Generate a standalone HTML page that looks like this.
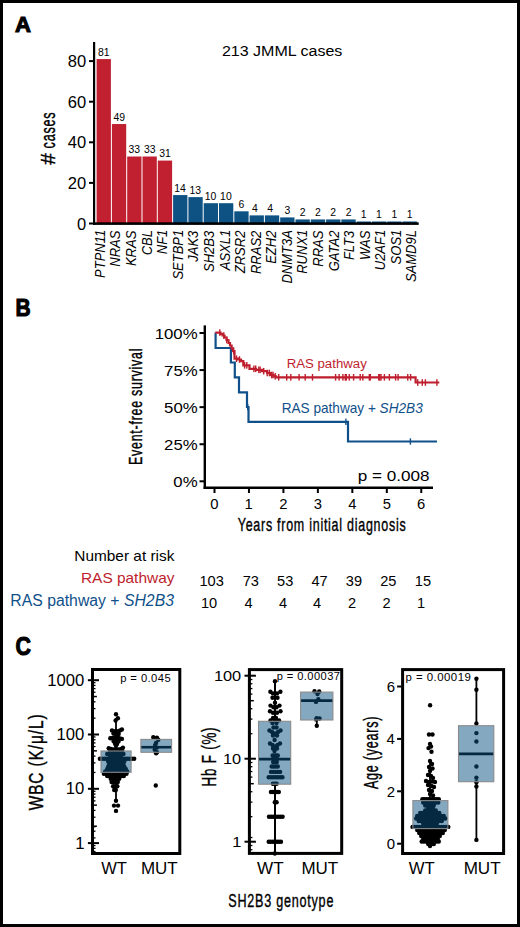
<!DOCTYPE html>
<html><head><meta charset="utf-8"><style>
html,body{margin:0;padding:0;background:#fff;}
body{width:520px;height:927px;overflow:hidden;}
svg{display:block;}
text{font-family:"Liberation Sans",sans-serif;}
</style></head><body>
<svg width="520" height="927" viewBox="0 0 520 927">
<rect width="520" height="927" fill="#fff"/>
<rect x="1.5" y="1.5" width="517" height="924" fill="none" stroke="#000" stroke-width="3"/>
<text transform="translate(14.89,32.35) scale(0.9865,1)" font-size="22.39" font-weight="bold" fill="#000" stroke="#000" stroke-width="1.1">A</text>
<rect x="96.6" y="59.07" width="14.3" height="164.43" fill="#C0202F"/>
<text transform="translate(97.98,55.87) scale(1.0000,1)" font-size="10.40" fill="#000">81</text>
<text transform="translate(104.9,277.93) rotate(-90) scale(0.9300,1)" font-size="14.00" font-style="italic" fill="#000">PTPN11</text>
<rect x="111.9" y="124.03" width="14.3" height="99.47" fill="#C0202F"/>
<text transform="translate(113.38,120.83) scale(1.0000,1)" font-size="10.40" fill="#000">49</text>
<text transform="translate(120.48,266.74) rotate(-90) scale(0.9300,1)" font-size="14.00" font-style="italic" fill="#000">NRAS</text>
<rect x="127.2" y="156.51" width="14.3" height="66.99" fill="#C0202F"/>
<text transform="translate(128.58,153.31) scale(1.0000,1)" font-size="10.40" fill="#000">33</text>
<text transform="translate(136.05,266.08) rotate(-90) scale(0.9300,1)" font-size="14.00" font-style="italic" fill="#000">KRAS</text>
<rect x="142.5" y="156.51" width="14.3" height="66.99" fill="#C0202F"/>
<text transform="translate(143.88,153.31) scale(1.0000,1)" font-size="10.40" fill="#000">33</text>
<text transform="translate(151.62,255.28) rotate(-90) scale(0.9300,1)" font-size="14.00" font-style="italic" fill="#000">CBL</text>
<rect x="157.8" y="160.57" width="14.3" height="62.93" fill="#C0202F"/>
<text transform="translate(159.18,157.37) scale(1.0000,1)" font-size="10.40" fill="#000">31</text>
<text transform="translate(167.2,254.24) rotate(-90) scale(0.9300,1)" font-size="14.00" font-style="italic" fill="#000">NF1</text>
<rect x="173.1" y="195.08" width="14.3" height="28.42" fill="#0D5283"/>
<text transform="translate(174.17,191.88) scale(1.0000,1)" font-size="10.40" fill="#000">14</text>
<text transform="translate(182.78,279.62) rotate(-90) scale(0.9300,1)" font-size="14.00" font-style="italic" fill="#000">SETBP1</text>
<rect x="188.4" y="197.11" width="14.3" height="26.39" fill="#0D5283"/>
<text transform="translate(189.57,193.91) scale(1.0000,1)" font-size="10.40" fill="#000">13</text>
<text transform="translate(198.35,261.79) rotate(-90) scale(0.9300,1)" font-size="14.00" font-style="italic" fill="#000">JAK3</text>
<rect x="203.7" y="203.2" width="14.3" height="20.3" fill="#0D5283"/>
<text transform="translate(204.82,200) scale(1.0000,1)" font-size="10.40" fill="#000">10</text>
<text transform="translate(213.93,271.94) rotate(-90) scale(0.9300,1)" font-size="14.00" font-style="italic" fill="#000">SH2B3</text>
<rect x="219" y="203.2" width="14.3" height="20.3" fill="#0D5283"/>
<text transform="translate(220.12,200) scale(1.0000,1)" font-size="10.40" fill="#000">10</text>
<text transform="translate(229.5,270.25) rotate(-90) scale(0.9300,1)" font-size="14.00" font-style="italic" fill="#000">ASXL1</text>
<rect x="234.3" y="211.32" width="14.3" height="12.18" fill="#0D5283"/>
<text transform="translate(238.54,208.12) scale(1.0000,1)" font-size="10.40" fill="#000">6</text>
<text transform="translate(245.07,273.25) rotate(-90) scale(0.9300,1)" font-size="14.00" font-style="italic" fill="#000">ZRSR2</text>
<rect x="249.6" y="215.38" width="14.3" height="8.12" fill="#0D5283"/>
<text transform="translate(251.99,212.18) scale(1.0000,1)" font-size="10.40" fill="#000">4</text>
<text transform="translate(260.65,274.03) rotate(-90) scale(0.9300,1)" font-size="14.00" font-style="italic" fill="#000">RRAS2</text>
<rect x="264.9" y="215.38" width="14.3" height="8.12" fill="#0D5283"/>
<text transform="translate(267.29,212.18) scale(1.0000,1)" font-size="10.40" fill="#000">4</text>
<text transform="translate(276.23,263.87) rotate(-90) scale(0.9300,1)" font-size="14.00" font-style="italic" fill="#000">EZH2</text>
<rect x="280.2" y="217.41" width="14.3" height="6.09" fill="#0D5283"/>
<text transform="translate(284.49,214.21) scale(1.0000,1)" font-size="10.40" fill="#000">3</text>
<text transform="translate(291.8,283.53) rotate(-90) scale(0.9300,1)" font-size="14.00" font-style="italic" fill="#000">DNMT3A</text>
<rect x="295.5" y="219.44" width="14.3" height="4.06" fill="#0D5283"/>
<text transform="translate(299.74,216.24) scale(1.0000,1)" font-size="10.40" fill="#000">2</text>
<text transform="translate(307.38,273.77) rotate(-90) scale(0.9300,1)" font-size="14.00" font-style="italic" fill="#000">RUNX1</text>
<rect x="310.8" y="219.44" width="14.3" height="4.06" fill="#0D5283"/>
<text transform="translate(315.04,216.24) scale(1.0000,1)" font-size="10.40" fill="#000">2</text>
<text transform="translate(322.95,266.74) rotate(-90) scale(0.9300,1)" font-size="14.00" font-style="italic" fill="#000">RRAS</text>
<rect x="326.1" y="219.44" width="14.3" height="4.06" fill="#0D5283"/>
<text transform="translate(330.34,216.24) scale(1.0000,1)" font-size="10.40" fill="#000">2</text>
<text transform="translate(338.52,271.29) rotate(-90) scale(0.9300,1)" font-size="14.00" font-style="italic" fill="#000">GATA2</text>
<rect x="341.4" y="219.44" width="14.3" height="4.06" fill="#0D5283"/>
<text transform="translate(345.64,216.24) scale(1.0000,1)" font-size="10.40" fill="#000">2</text>
<text transform="translate(354.1,260.1) rotate(-90) scale(0.9300,1)" font-size="14.00" font-style="italic" fill="#000">FLT3</text>
<rect x="356.7" y="221.47" width="14.3" height="2.03" fill="#0D5283"/>
<text transform="translate(360.78,218.27) scale(1.0000,1)" font-size="10.40" fill="#000">1</text>
<text transform="translate(369.67,259.96) rotate(-90) scale(0.9300,1)" font-size="14.00" font-style="italic" fill="#000">WAS</text>
<rect x="372" y="221.47" width="14.3" height="2.03" fill="#0D5283"/>
<text transform="translate(376.08,218.27) scale(1.0000,1)" font-size="10.40" fill="#000">1</text>
<text transform="translate(385.25,270.25) rotate(-90) scale(0.9300,1)" font-size="14.00" font-style="italic" fill="#000">U2AF1</text>
<rect x="387.3" y="221.47" width="14.3" height="2.03" fill="#0D5283"/>
<text transform="translate(391.38,218.27) scale(1.0000,1)" font-size="10.40" fill="#000">1</text>
<text transform="translate(400.83,264.39) rotate(-90) scale(0.9300,1)" font-size="14.00" font-style="italic" fill="#000">SOS1</text>
<rect x="402.6" y="221.47" width="14.3" height="2.03" fill="#0D5283"/>
<text transform="translate(406.68,218.27) scale(1.0000,1)" font-size="10.40" fill="#000">1</text>
<text transform="translate(416.4,282.1) rotate(-90) scale(0.9300,1)" font-size="14.00" font-style="italic" fill="#000">SAMD9L</text>
<rect x="93" y="42" width="2.2" height="183" fill="#000"/>
<rect x="93" y="222.3" width="325.7" height="2.6" fill="#000"/>
<rect x="89" y="222.5" width="4.5" height="2" fill="#000"/>
<text transform="translate(77.1,229.6) scale(1.0400,1)" font-size="15.90" fill="#000">0</text>
<rect x="89" y="181.9" width="4.5" height="2" fill="#000"/>
<text transform="translate(67.84,189) scale(1.0400,1)" font-size="15.90" fill="#000">20</text>
<rect x="89" y="141.3" width="4.5" height="2" fill="#000"/>
<text transform="translate(67.84,148.4) scale(1.0400,1)" font-size="15.90" fill="#000">40</text>
<rect x="89" y="100.7" width="4.5" height="2" fill="#000"/>
<text transform="translate(67.84,107.8) scale(1.0400,1)" font-size="15.90" fill="#000">60</text>
<rect x="89" y="60.1" width="4.5" height="2" fill="#000"/>
<text transform="translate(67.84,67.2) scale(1.0400,1)" font-size="15.90" fill="#000">80</text>
<text transform="translate(54.5,164.7) rotate(-90) scale(1.0001,1)" font-size="20.72" stroke-width="0.4" stroke="#000" fill="#000">#</text>
<text transform="translate(54.5,148.41) rotate(-90) scale(0.6437,1)" font-size="19.63" stroke-width="0.4" stroke="#000" letter-spacing="1.18" fill="#000">cases</text>
<text transform="translate(221.9,56) scale(1.0789,1)" font-size="14.86" fill="#000">213 JMML cases</text>
<text transform="translate(15.58,315.65) scale(0.8567,1)" font-size="24.49" font-weight="bold" fill="#000" stroke="#000" stroke-width="1.1">B</text>
<rect x="203.6" y="325.4" width="2.4" height="163.6" fill="#000"/>
<rect x="203.6" y="486.5" width="229.4" height="2.5" fill="#000"/>
<rect x="199.5" y="332" width="4.5" height="2" fill="#000"/>
<text transform="translate(154.7,338.5) scale(1.0900,1)" font-size="15.40" fill="#000">100%</text>
<rect x="199.5" y="369.07" width="4.5" height="2" fill="#000"/>
<text transform="translate(164.1,375.57) scale(1.0900,1)" font-size="15.40" fill="#000">75%</text>
<rect x="199.5" y="406.15" width="4.5" height="2" fill="#000"/>
<text transform="translate(164.1,412.65) scale(1.0900,1)" font-size="15.40" fill="#000">50%</text>
<rect x="199.5" y="443.23" width="4.5" height="2" fill="#000"/>
<text transform="translate(164.1,449.73) scale(1.0900,1)" font-size="15.40" fill="#000">25%</text>
<rect x="199.5" y="480.3" width="4.5" height="2" fill="#000"/>
<text transform="translate(173.33,486.8) scale(1.0900,1)" font-size="15.40" fill="#000">0%</text>
<rect x="213.5" y="489" width="2" height="4" fill="#000"/>
<text transform="translate(210.36,508.8) scale(1.0000,1)" font-size="14.80" fill="#000">0</text>
<rect x="247.96" y="489" width="2" height="4" fill="#000"/>
<text transform="translate(244.59,508.8) scale(1.0000,1)" font-size="14.80" fill="#000">1</text>
<rect x="282.42" y="489" width="2" height="4" fill="#000"/>
<text transform="translate(279.28,508.8) scale(1.0000,1)" font-size="14.80" fill="#000">2</text>
<rect x="316.88" y="489" width="2" height="4" fill="#000"/>
<text transform="translate(313.81,508.8) scale(1.0000,1)" font-size="14.80" fill="#000">3</text>
<rect x="351.34" y="489" width="2" height="4" fill="#000"/>
<text transform="translate(348.27,508.8) scale(1.0000,1)" font-size="14.80" fill="#000">4</text>
<rect x="385.8" y="489" width="2" height="4" fill="#000"/>
<text transform="translate(382.66,508.8) scale(1.0000,1)" font-size="14.80" fill="#000">5</text>
<rect x="420.26" y="489" width="2" height="4" fill="#000"/>
<text transform="translate(417.12,508.8) scale(1.0000,1)" font-size="14.80" fill="#000">6</text>
<text transform="translate(142.4,465) rotate(-90) scale(0.6491,1)" font-size="19.17" stroke-width="0.4" stroke="#000" letter-spacing="1.15" fill="#000">Event-free survival</text>
<text transform="translate(237.75,531.3) scale(0.6653,1)" font-size="18.75" stroke-width="0.4" stroke="#000" letter-spacing="1.12" fill="#000">Years from initial diagnosis</text>
<text transform="translate(357.72,481.25) scale(1.1145,1)" font-size="15.36" fill="#000">p = 0.008</text>
<path d="M215.6,332.5 L215.6,348 L230.9,348 L230.9,362.5 L234.8,362.5 L234.8,377.3 L239,377.3 L239,392.3 L247,392.3 L247,407 L248.5,407 L248.5,421.8 L348,421.8 L348,441.5 L437,441.5" fill="none" stroke="#10508A" stroke-width="2.2"/>
<rect x="247" y="403.8" width="1.4" height="6.4" fill="#10508A"/>
<rect x="345.2" y="418.6" width="1.4" height="6.4" fill="#10508A"/>
<rect x="409.7" y="438.3" width="1.4" height="6.4" fill="#10508A"/>
<path d="M215.3,332.6 L220.5,332.6 L220.5,333.8 L222.5,333.8 L222.5,335.5 L224.5,335.5 L224.5,337.5 L226.5,337.5 L226.5,340 L228.5,340 L228.5,343 L230,343 L230,345.5 L231.6,345.5 L231.6,348.3 L233,348.3 L233,351 L234.5,351 L234.5,358.7 L238,358.7 L238,359.5 L241,359.5 L241,361.2 L243.3,361.2 L243.3,365.3 L249.5,365.3 L249.5,368.8 L256,368.8 L256,369.8 L261.9,369.8 L261.9,371.2 L267.2,371.2 L267.2,373 L270,373 L270,375 L273.5,375 L273.5,376.3 L276,376.3 L276,377.3 L415.6,377.3 L415.6,382.5 L439.3,382.5" fill="none" stroke="#BE1E2D" stroke-width="2.2"/>
<rect x="219.1" y="329.3" width="1.4" height="6.6" fill="#BE1E2D"/>
<rect x="223.1" y="332.2" width="1.4" height="6.6" fill="#BE1E2D"/>
<rect x="226" y="336.7" width="1.4" height="6.6" fill="#BE1E2D"/>
<rect x="232.9" y="347.7" width="1.4" height="6.6" fill="#BE1E2D"/>
<rect x="235.8" y="355.4" width="1.4" height="6.6" fill="#BE1E2D"/>
<rect x="238.8" y="356.2" width="1.4" height="6.6" fill="#BE1E2D"/>
<rect x="243.9" y="362" width="1.4" height="6.6" fill="#BE1E2D"/>
<rect x="246.1" y="362" width="1.4" height="6.6" fill="#BE1E2D"/>
<rect x="253.2" y="365.5" width="1.4" height="6.6" fill="#BE1E2D"/>
<rect x="255" y="365.5" width="1.4" height="6.6" fill="#BE1E2D"/>
<rect x="258.1" y="366.5" width="1.4" height="6.6" fill="#BE1E2D"/>
<rect x="259.4" y="366.5" width="1.4" height="6.6" fill="#BE1E2D"/>
<rect x="263" y="367.9" width="1.4" height="6.6" fill="#BE1E2D"/>
<rect x="266.5" y="369.7" width="1.4" height="6.6" fill="#BE1E2D"/>
<rect x="268.7" y="369.7" width="1.4" height="6.6" fill="#BE1E2D"/>
<rect x="270.9" y="371.7" width="1.4" height="6.6" fill="#BE1E2D"/>
<rect x="272.3" y="371.7" width="1.4" height="6.6" fill="#BE1E2D"/>
<rect x="274.5" y="373" width="1.4" height="6.6" fill="#BE1E2D"/>
<rect x="278" y="374" width="1.4" height="6.6" fill="#BE1E2D"/>
<rect x="286" y="374" width="1.4" height="6.6" fill="#BE1E2D"/>
<rect x="290.1" y="374" width="1.4" height="6.6" fill="#BE1E2D"/>
<rect x="298.4" y="374" width="1.4" height="6.6" fill="#BE1E2D"/>
<rect x="304.5" y="374" width="1.4" height="6.6" fill="#BE1E2D"/>
<rect x="311.8" y="374" width="1.4" height="6.6" fill="#BE1E2D"/>
<rect x="334.9" y="374" width="1.4" height="6.6" fill="#BE1E2D"/>
<rect x="338.4" y="374" width="1.4" height="6.6" fill="#BE1E2D"/>
<rect x="342.2" y="374" width="1.4" height="6.6" fill="#BE1E2D"/>
<rect x="344.6" y="374" width="1.4" height="6.6" fill="#BE1E2D"/>
<rect x="345.6" y="374" width="1.4" height="6.6" fill="#BE1E2D"/>
<rect x="348.5" y="374" width="1.4" height="6.6" fill="#BE1E2D"/>
<rect x="352.9" y="374" width="1.4" height="6.6" fill="#BE1E2D"/>
<rect x="359.5" y="374" width="1.4" height="6.6" fill="#BE1E2D"/>
<rect x="362.1" y="374" width="1.4" height="6.6" fill="#BE1E2D"/>
<rect x="368.6" y="374" width="1.4" height="6.6" fill="#BE1E2D"/>
<rect x="369.6" y="374" width="1.4" height="6.6" fill="#BE1E2D"/>
<rect x="378.05" y="374" width="1.4" height="6.6" fill="#BE1E2D"/>
<rect x="379.05" y="374" width="1.4" height="6.6" fill="#BE1E2D"/>
<rect x="380.3" y="374" width="1.4" height="6.6" fill="#BE1E2D"/>
<rect x="383.7" y="374" width="1.4" height="6.6" fill="#BE1E2D"/>
<rect x="388.7" y="374" width="1.4" height="6.6" fill="#BE1E2D"/>
<rect x="394.9" y="374" width="1.4" height="6.6" fill="#BE1E2D"/>
<rect x="397.4" y="374" width="1.4" height="6.6" fill="#BE1E2D"/>
<rect x="407.05" y="374" width="1.4" height="6.6" fill="#BE1E2D"/>
<rect x="409.9" y="374" width="1.4" height="6.6" fill="#BE1E2D"/>
<rect x="417" y="379.2" width="1.4" height="6.6" fill="#BE1E2D"/>
<rect x="421.6" y="379.2" width="1.4" height="6.6" fill="#BE1E2D"/>
<rect x="424.7" y="379.2" width="1.4" height="6.6" fill="#BE1E2D"/>
<rect x="436.2" y="379.2" width="1.4" height="6.6" fill="#BE1E2D"/>
<text transform="translate(286.64,367.7) scale(0.9933,1)" font-size="13.33" fill="#BE1E2D">RAS pathway</text>
<text transform="translate(281.71,412.6) scale(0.9720,1)" font-size="14.00" fill="#10508A">RAS pathway + <tspan font-style="italic">SH2B3</tspan></text>
<text transform="translate(74.27,561.25) scale(1.0328,1)" font-size="14.93" fill="#000">Number at risk</text>
<text transform="translate(80.97,583.1) scale(0.9922,1)" font-size="15.56" fill="#BE1E2D">RAS pathway</text>
<text transform="translate(10.34,605.9) scale(1.0120,1)" font-size="15.60" fill="#10508A">RAS pathway + <tspan font-style="italic">SH2B3</tspan></text>
<text transform="translate(199.49,586) scale(1.0000,1)" font-size="14.60" fill="#000">103</text>
<text transform="translate(242.72,586) scale(1.0000,1)" font-size="14.60" fill="#000">73</text>
<text transform="translate(277.1,586) scale(1.0000,1)" font-size="14.60" fill="#000">53</text>
<text transform="translate(311.44,586) scale(1.0000,1)" font-size="14.60" fill="#000">47</text>
<text transform="translate(345.8,586) scale(1.0000,1)" font-size="14.60" fill="#000">39</text>
<text transform="translate(380.25,586) scale(1.0000,1)" font-size="14.60" fill="#000">25</text>
<text transform="translate(414.83,586) scale(1.0000,1)" font-size="14.60" fill="#000">15</text>
<text transform="translate(200.93,608) scale(1.0000,1)" font-size="14.60" fill="#000">10</text>
<text transform="translate(244.49,608) scale(1.0000,1)" font-size="14.60" fill="#000">4</text>
<text transform="translate(278.88,608) scale(1.0000,1)" font-size="14.60" fill="#000">4</text>
<text transform="translate(312.99,608) scale(1.0000,1)" font-size="14.60" fill="#000">4</text>
<text transform="translate(348.11,608) scale(1.0000,1)" font-size="14.60" fill="#000">2</text>
<text transform="translate(382.41,608) scale(1.0000,1)" font-size="14.60" fill="#000">2</text>
<text transform="translate(416.89,608) scale(1.0000,1)" font-size="14.60" fill="#000">1</text>
<text transform="translate(15.49,654.5) scale(0.8433,1)" font-size="25.36" font-weight="bold" fill="#000" stroke="#000" stroke-width="1.1">C</text>
<line x1="116" y1="718" x2="116" y2="751" stroke="#000" stroke-width="1.8"/>
<line x1="116" y1="772.3" x2="116" y2="800" stroke="#000" stroke-width="1.8"/>
<circle cx="116" cy="714.2" r="2.2" fill="#000"/>
<circle cx="117.9" cy="718.3" r="2.2" fill="#000"/>
<circle cx="115.6" cy="720.5" r="2.2" fill="#000"/>
<circle cx="112" cy="730.5" r="2.2" fill="#000"/>
<circle cx="114" cy="731.5" r="2.2" fill="#000"/>
<circle cx="116" cy="731" r="2.2" fill="#000"/>
<circle cx="118" cy="731.5" r="2.2" fill="#000"/>
<circle cx="120" cy="730.5" r="2.2" fill="#000"/>
<circle cx="121.9" cy="729.5" r="2.2" fill="#000"/>
<circle cx="113.5" cy="733.5" r="2.2" fill="#000"/>
<circle cx="116" cy="734" r="2.2" fill="#000"/>
<circle cx="118.7" cy="734" r="2.2" fill="#000"/>
<circle cx="110.3" cy="738.2" r="2.2" fill="#000"/>
<circle cx="112.5" cy="738" r="2.2" fill="#000"/>
<circle cx="114.5" cy="737.5" r="2.2" fill="#000"/>
<circle cx="116" cy="737" r="2.2" fill="#000"/>
<circle cx="118" cy="737.5" r="2.2" fill="#000"/>
<circle cx="120" cy="738.5" r="2.2" fill="#000"/>
<circle cx="121.9" cy="738.9" r="2.2" fill="#000"/>
<circle cx="113.5" cy="741" r="2.2" fill="#000"/>
<circle cx="116" cy="740.5" r="2.2" fill="#000"/>
<circle cx="118.5" cy="741.5" r="2.2" fill="#000"/>
<circle cx="115" cy="743.5" r="2.2" fill="#000"/>
<circle cx="117" cy="744" r="2.2" fill="#000"/>
<circle cx="116" cy="745.5" r="2.2" fill="#000"/>
<circle cx="108.7" cy="748.2" r="2.2" fill="#000"/>
<circle cx="111" cy="749" r="2.2" fill="#000"/>
<circle cx="113.5" cy="749.5" r="2.2" fill="#000"/>
<circle cx="116" cy="748.8" r="2.2" fill="#000"/>
<circle cx="118.5" cy="749.5" r="2.2" fill="#000"/>
<circle cx="121" cy="749" r="2.2" fill="#000"/>
<circle cx="122.9" cy="747.8" r="2.2" fill="#000"/>
<circle cx="110" cy="750.5" r="2.2" fill="#000"/>
<circle cx="114" cy="751" r="2.2" fill="#000"/>
<circle cx="118" cy="751" r="2.2" fill="#000"/>
<circle cx="122" cy="750.5" r="2.2" fill="#000"/>
<circle cx="107.2" cy="754" r="2.2" fill="#000"/>
<circle cx="109.24" cy="754" r="2.2" fill="#000"/>
<circle cx="111.28" cy="754" r="2.2" fill="#000"/>
<circle cx="113.31" cy="754" r="2.2" fill="#000"/>
<circle cx="115.35" cy="754" r="2.2" fill="#000"/>
<circle cx="117.39" cy="754" r="2.2" fill="#000"/>
<circle cx="119.42" cy="754" r="2.2" fill="#000"/>
<circle cx="121.46" cy="754" r="2.2" fill="#000"/>
<circle cx="123.5" cy="754" r="2.2" fill="#000"/>
<circle cx="110.2" cy="756" r="2.2" fill="#000"/>
<circle cx="112.32" cy="756" r="2.2" fill="#000"/>
<circle cx="114.44" cy="756" r="2.2" fill="#000"/>
<circle cx="116.56" cy="756" r="2.2" fill="#000"/>
<circle cx="118.68" cy="756" r="2.2" fill="#000"/>
<circle cx="120.8" cy="756" r="2.2" fill="#000"/>
<circle cx="99.9" cy="758.8" r="2.2" fill="#000"/>
<circle cx="102.19" cy="758.8" r="2.2" fill="#000"/>
<circle cx="104.47" cy="758.8" r="2.2" fill="#000"/>
<circle cx="106.76" cy="758.8" r="2.2" fill="#000"/>
<circle cx="109.05" cy="758.8" r="2.2" fill="#000"/>
<circle cx="111.33" cy="758.8" r="2.2" fill="#000"/>
<circle cx="113.62" cy="758.8" r="2.2" fill="#000"/>
<circle cx="115.91" cy="758.8" r="2.2" fill="#000"/>
<circle cx="118.19" cy="758.8" r="2.2" fill="#000"/>
<circle cx="120.48" cy="758.8" r="2.2" fill="#000"/>
<circle cx="122.77" cy="758.8" r="2.2" fill="#000"/>
<circle cx="125.05" cy="758.8" r="2.2" fill="#000"/>
<circle cx="127.34" cy="758.8" r="2.2" fill="#000"/>
<circle cx="129.63" cy="758.8" r="2.2" fill="#000"/>
<circle cx="131.91" cy="758.8" r="2.2" fill="#000"/>
<circle cx="134.2" cy="758.8" r="2.2" fill="#000"/>
<circle cx="108.2" cy="761.5" r="2.2" fill="#000"/>
<circle cx="110.5" cy="761.5" r="2.2" fill="#000"/>
<circle cx="112.8" cy="761.5" r="2.2" fill="#000"/>
<circle cx="115.1" cy="761.5" r="2.2" fill="#000"/>
<circle cx="117.4" cy="761.5" r="2.2" fill="#000"/>
<circle cx="119.7" cy="761.5" r="2.2" fill="#000"/>
<circle cx="122" cy="761.5" r="2.2" fill="#000"/>
<circle cx="124.3" cy="761.5" r="2.2" fill="#000"/>
<circle cx="109.2" cy="764" r="2.2" fill="#000"/>
<circle cx="111.21" cy="764" r="2.2" fill="#000"/>
<circle cx="113.23" cy="764" r="2.2" fill="#000"/>
<circle cx="115.24" cy="764" r="2.2" fill="#000"/>
<circle cx="117.26" cy="764" r="2.2" fill="#000"/>
<circle cx="119.27" cy="764" r="2.2" fill="#000"/>
<circle cx="121.29" cy="764" r="2.2" fill="#000"/>
<circle cx="123.3" cy="764" r="2.2" fill="#000"/>
<circle cx="108.2" cy="766.5" r="2.2" fill="#000"/>
<circle cx="110.5" cy="766.5" r="2.2" fill="#000"/>
<circle cx="112.8" cy="766.5" r="2.2" fill="#000"/>
<circle cx="115.1" cy="766.5" r="2.2" fill="#000"/>
<circle cx="117.4" cy="766.5" r="2.2" fill="#000"/>
<circle cx="119.7" cy="766.5" r="2.2" fill="#000"/>
<circle cx="122" cy="766.5" r="2.2" fill="#000"/>
<circle cx="124.3" cy="766.5" r="2.2" fill="#000"/>
<circle cx="107.2" cy="769" r="2.2" fill="#000"/>
<circle cx="109.27" cy="769" r="2.2" fill="#000"/>
<circle cx="111.33" cy="769" r="2.2" fill="#000"/>
<circle cx="113.4" cy="769" r="2.2" fill="#000"/>
<circle cx="115.47" cy="769" r="2.2" fill="#000"/>
<circle cx="117.53" cy="769" r="2.2" fill="#000"/>
<circle cx="119.6" cy="769" r="2.2" fill="#000"/>
<circle cx="121.67" cy="769" r="2.2" fill="#000"/>
<circle cx="123.73" cy="769" r="2.2" fill="#000"/>
<circle cx="125.8" cy="769" r="2.2" fill="#000"/>
<circle cx="105.2" cy="771.5" r="2.2" fill="#000"/>
<circle cx="107.41" cy="771.5" r="2.2" fill="#000"/>
<circle cx="109.62" cy="771.5" r="2.2" fill="#000"/>
<circle cx="111.83" cy="771.5" r="2.2" fill="#000"/>
<circle cx="114.04" cy="771.5" r="2.2" fill="#000"/>
<circle cx="116.25" cy="771.5" r="2.2" fill="#000"/>
<circle cx="118.46" cy="771.5" r="2.2" fill="#000"/>
<circle cx="120.67" cy="771.5" r="2.2" fill="#000"/>
<circle cx="122.88" cy="771.5" r="2.2" fill="#000"/>
<circle cx="125.09" cy="771.5" r="2.2" fill="#000"/>
<circle cx="127.3" cy="771.5" r="2.2" fill="#000"/>
<circle cx="103.9" cy="773.8" r="2.2" fill="#000"/>
<circle cx="106.16" cy="773.8" r="2.2" fill="#000"/>
<circle cx="108.42" cy="773.8" r="2.2" fill="#000"/>
<circle cx="110.68" cy="773.8" r="2.2" fill="#000"/>
<circle cx="112.94" cy="773.8" r="2.2" fill="#000"/>
<circle cx="115.2" cy="773.8" r="2.2" fill="#000"/>
<circle cx="117.46" cy="773.8" r="2.2" fill="#000"/>
<circle cx="119.72" cy="773.8" r="2.2" fill="#000"/>
<circle cx="121.98" cy="773.8" r="2.2" fill="#000"/>
<circle cx="124.24" cy="773.8" r="2.2" fill="#000"/>
<circle cx="126.5" cy="773.8" r="2.2" fill="#000"/>
<circle cx="107.2" cy="776" r="2.2" fill="#000"/>
<circle cx="109.28" cy="776" r="2.2" fill="#000"/>
<circle cx="111.35" cy="776" r="2.2" fill="#000"/>
<circle cx="113.42" cy="776" r="2.2" fill="#000"/>
<circle cx="115.5" cy="776" r="2.2" fill="#000"/>
<circle cx="117.58" cy="776" r="2.2" fill="#000"/>
<circle cx="119.65" cy="776" r="2.2" fill="#000"/>
<circle cx="121.72" cy="776" r="2.2" fill="#000"/>
<circle cx="123.8" cy="776" r="2.2" fill="#000"/>
<circle cx="110.7" cy="778.7" r="2.2" fill="#000"/>
<circle cx="112.83" cy="778.7" r="2.2" fill="#000"/>
<circle cx="114.95" cy="778.7" r="2.2" fill="#000"/>
<circle cx="117.08" cy="778.7" r="2.2" fill="#000"/>
<circle cx="119.2" cy="778.7" r="2.2" fill="#000"/>
<circle cx="111.6" cy="782" r="2.2" fill="#000"/>
<circle cx="113.67" cy="782" r="2.2" fill="#000"/>
<circle cx="115.73" cy="782" r="2.2" fill="#000"/>
<circle cx="117.8" cy="782" r="2.2" fill="#000"/>
<circle cx="113.1" cy="786.3" r="2.2" fill="#000"/>
<circle cx="115.2" cy="786.3" r="2.2" fill="#000"/>
<circle cx="117.3" cy="786.3" r="2.2" fill="#000"/>
<circle cx="114.2" cy="790" r="2.2" fill="#000"/>
<circle cx="115.8" cy="790" r="2.2" fill="#000"/>
<circle cx="116" cy="800.8" r="2.2" fill="#000"/>
<circle cx="114" cy="805.6" r="2.2" fill="#000"/>
<circle cx="118" cy="805.6" r="2.2" fill="#000"/>
<circle cx="116" cy="810.9" r="2.2" fill="#000"/>
<circle cx="153.3" cy="737.3" r="2.2" fill="#000"/>
<circle cx="156.9" cy="737.6" r="2.2" fill="#000"/>
<circle cx="158.3" cy="739.8" r="2.2" fill="#000"/>
<circle cx="156.1" cy="743" r="2.2" fill="#000"/>
<circle cx="155.1" cy="745.1" r="2.2" fill="#000"/>
<circle cx="156.9" cy="747.6" r="2.2" fill="#000"/>
<circle cx="154.7" cy="749.7" r="2.2" fill="#000"/>
<circle cx="156.9" cy="752.2" r="2.2" fill="#000"/>
<circle cx="156.1" cy="753.3" r="2.2" fill="#000"/>
<circle cx="155.8" cy="785.5" r="2.2" fill="#000"/>
<rect x="101" y="751" width="30.1" height="21.3" fill="#0B5183" fill-opacity="0.5" stroke="#8a8a8a" stroke-width="1.1"/>
<line x1="140.9" y1="747.2" x2="171.6" y2="747.2" stroke="#000" stroke-width="2.6"/>
<rect x="140.9" y="739.4" width="30.7" height="12.9" fill="#0B5183" fill-opacity="0.5" stroke="#8a8a8a" stroke-width="1.1"/>
<rect x="92.5" y="669.5" width="87.3" height="184" fill="none" stroke="#000" stroke-width="3"/>
<line x1="92.5" y1="851.51" x2="95.5" y2="851.51" stroke="#000" stroke-width="1.3"/>
<line x1="92.5" y1="848.36" x2="95.5" y2="848.36" stroke="#000" stroke-width="1.3"/>
<line x1="92.5" y1="845.58" x2="95.5" y2="845.58" stroke="#000" stroke-width="1.3"/>
<line x1="92.5" y1="843.1" x2="99" y2="843.1" stroke="#000" stroke-width="2"/>
<line x1="92.5" y1="826.75" x2="95.5" y2="826.75" stroke="#000" stroke-width="1.3"/>
<line x1="92.5" y1="817.19" x2="95.5" y2="817.19" stroke="#000" stroke-width="1.3"/>
<line x1="92.5" y1="810.41" x2="95.5" y2="810.41" stroke="#000" stroke-width="1.3"/>
<line x1="92.5" y1="805.15" x2="96.9" y2="805.15" stroke="#000" stroke-width="1.5"/>
<line x1="92.5" y1="800.85" x2="95.5" y2="800.85" stroke="#000" stroke-width="1.3"/>
<line x1="92.5" y1="797.21" x2="95.5" y2="797.21" stroke="#000" stroke-width="1.3"/>
<line x1="92.5" y1="794.06" x2="95.5" y2="794.06" stroke="#000" stroke-width="1.3"/>
<line x1="92.5" y1="791.28" x2="95.5" y2="791.28" stroke="#000" stroke-width="1.3"/>
<line x1="92.5" y1="788.8" x2="99" y2="788.8" stroke="#000" stroke-width="2"/>
<line x1="92.5" y1="772.45" x2="95.5" y2="772.45" stroke="#000" stroke-width="1.3"/>
<line x1="92.5" y1="762.89" x2="95.5" y2="762.89" stroke="#000" stroke-width="1.3"/>
<line x1="92.5" y1="756.11" x2="95.5" y2="756.11" stroke="#000" stroke-width="1.3"/>
<line x1="92.5" y1="750.85" x2="96.9" y2="750.85" stroke="#000" stroke-width="1.5"/>
<line x1="92.5" y1="746.55" x2="95.5" y2="746.55" stroke="#000" stroke-width="1.3"/>
<line x1="92.5" y1="742.91" x2="95.5" y2="742.91" stroke="#000" stroke-width="1.3"/>
<line x1="92.5" y1="739.76" x2="95.5" y2="739.76" stroke="#000" stroke-width="1.3"/>
<line x1="92.5" y1="736.98" x2="95.5" y2="736.98" stroke="#000" stroke-width="1.3"/>
<line x1="92.5" y1="734.5" x2="99" y2="734.5" stroke="#000" stroke-width="2"/>
<line x1="92.5" y1="718.15" x2="95.5" y2="718.15" stroke="#000" stroke-width="1.3"/>
<line x1="92.5" y1="708.59" x2="95.5" y2="708.59" stroke="#000" stroke-width="1.3"/>
<line x1="92.5" y1="701.81" x2="95.5" y2="701.81" stroke="#000" stroke-width="1.3"/>
<line x1="92.5" y1="696.55" x2="96.9" y2="696.55" stroke="#000" stroke-width="1.5"/>
<line x1="92.5" y1="692.25" x2="95.5" y2="692.25" stroke="#000" stroke-width="1.3"/>
<line x1="92.5" y1="688.61" x2="95.5" y2="688.61" stroke="#000" stroke-width="1.3"/>
<line x1="92.5" y1="685.46" x2="95.5" y2="685.46" stroke="#000" stroke-width="1.3"/>
<line x1="92.5" y1="682.68" x2="95.5" y2="682.68" stroke="#000" stroke-width="1.3"/>
<line x1="92.5" y1="680.2" x2="99" y2="680.2" stroke="#000" stroke-width="2"/>
<line x1="92.5" y1="831.2" x2="95.5" y2="831.2" stroke="#000" stroke-width="1.3"/>
<line x1="92.5" y1="837.9" x2="95.5" y2="837.9" stroke="#000" stroke-width="1.3"/>
<line x1="92.5" y1="826.2" x2="96.9" y2="826.2" stroke="#000" stroke-width="1.5"/>
<line x1="87.9" y1="843.1" x2="91" y2="843.1" stroke="#000" stroke-width="2"/>
<text transform="translate(75.19,848.7) scale(1.0700,1)" font-size="15.60" fill="#000">1</text>
<line x1="87.9" y1="788.8" x2="91" y2="788.8" stroke="#000" stroke-width="2"/>
<text transform="translate(65.67,794.4) scale(1.0700,1)" font-size="15.60" fill="#000">10</text>
<line x1="87.9" y1="734.5" x2="91" y2="734.5" stroke="#000" stroke-width="2"/>
<text transform="translate(56.49,740.1) scale(1.0700,1)" font-size="15.60" fill="#000">100</text>
<line x1="87.9" y1="680.2" x2="91" y2="680.2" stroke="#000" stroke-width="2"/>
<text transform="translate(47.14,685.8) scale(1.0700,1)" font-size="15.60" fill="#000">1000</text>
<text transform="translate(120.13,681.6) scale(0.9923,1)" font-size="11.29" letter-spacing="0.45" fill="#000">p = 0.045</text>
<text transform="translate(43.3,810.3) rotate(-90) scale(0.7761,1)" font-size="19.86" stroke-width="0.4" stroke="#000" letter-spacing="1.19" fill="#000">WBC (K/μ/L)</text>
<text transform="translate(101.2,874) scale(0.9922,1)" font-size="16.67" fill="#000">WT</text>
<text transform="translate(140.94,874) scale(1.0203,1)" font-size="16.67" fill="#000">MUT</text>
<line x1="275" y1="681" x2="275" y2="721.3" stroke="#000" stroke-width="2"/>
<line x1="275" y1="784.2" x2="275" y2="854" stroke="#000" stroke-width="2"/>
<circle cx="275" cy="681.2" r="2.2" fill="#000"/>
<circle cx="270.4" cy="691.8" r="2.2" fill="#000"/>
<circle cx="273" cy="693.4" r="2.2" fill="#000"/>
<circle cx="277" cy="693.4" r="2.2" fill="#000"/>
<circle cx="280.4" cy="691.8" r="2.2" fill="#000"/>
<circle cx="272.5" cy="697.7" r="2.2" fill="#000"/>
<circle cx="277.5" cy="697.7" r="2.2" fill="#000"/>
<circle cx="275" cy="702.7" r="2.2" fill="#000"/>
<circle cx="270.5" cy="705.6" r="2.2" fill="#000"/>
<circle cx="273.5" cy="707.2" r="2.2" fill="#000"/>
<circle cx="276.5" cy="707.2" r="2.2" fill="#000"/>
<circle cx="279.5" cy="705.6" r="2.2" fill="#000"/>
<circle cx="270" cy="711.2" r="2.2" fill="#000"/>
<circle cx="273" cy="712.8" r="2.2" fill="#000"/>
<circle cx="277" cy="712.8" r="2.2" fill="#000"/>
<circle cx="280.5" cy="711.2" r="2.2" fill="#000"/>
<circle cx="273" cy="718" r="2.2" fill="#000"/>
<circle cx="276" cy="718" r="2.2" fill="#000"/>
<circle cx="270.5" cy="720.4" r="2.2" fill="#000"/>
<circle cx="275" cy="720.4" r="2.2" fill="#000"/>
<circle cx="279" cy="720.4" r="2.2" fill="#000"/>
<circle cx="272.5" cy="723" r="2.2" fill="#000"/>
<circle cx="276.5" cy="723" r="2.2" fill="#000"/>
<circle cx="273.5" cy="727.5" r="2.2" fill="#000"/>
<circle cx="276.5" cy="727.5" r="2.2" fill="#000"/>
<circle cx="269.5" cy="730.5" r="2.2" fill="#000"/>
<circle cx="272" cy="732" r="2.2" fill="#000"/>
<circle cx="275" cy="733.5" r="2.2" fill="#000"/>
<circle cx="278" cy="732" r="2.2" fill="#000"/>
<circle cx="280.5" cy="730.5" r="2.2" fill="#000"/>
<circle cx="273" cy="735.5" r="2.2" fill="#000"/>
<circle cx="277" cy="735.5" r="2.2" fill="#000"/>
<circle cx="274.6" cy="740" r="2.2" fill="#000"/>
<circle cx="270" cy="743.5" r="2.2" fill="#000"/>
<circle cx="272.5" cy="745" r="2.2" fill="#000"/>
<circle cx="275" cy="746.5" r="2.2" fill="#000"/>
<circle cx="277.5" cy="745" r="2.2" fill="#000"/>
<circle cx="280" cy="743.5" r="2.2" fill="#000"/>
<circle cx="273" cy="748.5" r="2.2" fill="#000"/>
<circle cx="277" cy="748.5" r="2.2" fill="#000"/>
<circle cx="274.5" cy="751" r="2.2" fill="#000"/>
<circle cx="272.6" cy="755.4" r="2.2" fill="#000"/>
<circle cx="274.33" cy="755.4" r="2.2" fill="#000"/>
<circle cx="276.07" cy="755.4" r="2.2" fill="#000"/>
<circle cx="277.8" cy="755.4" r="2.2" fill="#000"/>
<circle cx="273.2" cy="758.7" r="2.2" fill="#000"/>
<circle cx="275" cy="758.7" r="2.2" fill="#000"/>
<circle cx="276.8" cy="758.7" r="2.2" fill="#000"/>
<circle cx="273.2" cy="762" r="2.2" fill="#000"/>
<circle cx="275" cy="762" r="2.2" fill="#000"/>
<circle cx="276.8" cy="762" r="2.2" fill="#000"/>
<circle cx="271.7" cy="766.5" r="2.2" fill="#000"/>
<circle cx="273.73" cy="766.5" r="2.2" fill="#000"/>
<circle cx="275.77" cy="766.5" r="2.2" fill="#000"/>
<circle cx="277.8" cy="766.5" r="2.2" fill="#000"/>
<circle cx="271" cy="771.9" r="2.2" fill="#000"/>
<circle cx="273.27" cy="771.9" r="2.2" fill="#000"/>
<circle cx="275.55" cy="771.9" r="2.2" fill="#000"/>
<circle cx="277.83" cy="771.9" r="2.2" fill="#000"/>
<circle cx="280.1" cy="771.9" r="2.2" fill="#000"/>
<circle cx="268.7" cy="777.3" r="2.2" fill="#000"/>
<circle cx="270.98" cy="777.3" r="2.2" fill="#000"/>
<circle cx="273.27" cy="777.3" r="2.2" fill="#000"/>
<circle cx="275.55" cy="777.3" r="2.2" fill="#000"/>
<circle cx="277.83" cy="777.3" r="2.2" fill="#000"/>
<circle cx="280.12" cy="777.3" r="2.2" fill="#000"/>
<circle cx="282.4" cy="777.3" r="2.2" fill="#000"/>
<circle cx="272.9" cy="783.8" r="2.2" fill="#000"/>
<circle cx="274.75" cy="783.8" r="2.2" fill="#000"/>
<circle cx="276.6" cy="783.8" r="2.2" fill="#000"/>
<circle cx="270.95" cy="792" r="2.2" fill="#000"/>
<circle cx="272.91" cy="792" r="2.2" fill="#000"/>
<circle cx="274.88" cy="792" r="2.2" fill="#000"/>
<circle cx="276.84" cy="792" r="2.2" fill="#000"/>
<circle cx="278.8" cy="792" r="2.2" fill="#000"/>
<circle cx="274.8" cy="802.3" r="2.2" fill="#000"/>
<circle cx="276.6" cy="802.3" r="2.2" fill="#000"/>
<circle cx="269" cy="816.7" r="2.2" fill="#000"/>
<circle cx="271.27" cy="816.7" r="2.2" fill="#000"/>
<circle cx="273.53" cy="816.7" r="2.2" fill="#000"/>
<circle cx="275.8" cy="816.7" r="2.2" fill="#000"/>
<circle cx="278.07" cy="816.7" r="2.2" fill="#000"/>
<circle cx="280.33" cy="816.7" r="2.2" fill="#000"/>
<circle cx="282.6" cy="816.7" r="2.2" fill="#000"/>
<circle cx="268.7" cy="841.7" r="2.2" fill="#000"/>
<circle cx="270.75" cy="841.7" r="2.2" fill="#000"/>
<circle cx="272.8" cy="841.7" r="2.2" fill="#000"/>
<circle cx="274.85" cy="841.7" r="2.2" fill="#000"/>
<circle cx="276.9" cy="841.7" r="2.2" fill="#000"/>
<circle cx="278.95" cy="841.7" r="2.2" fill="#000"/>
<circle cx="281" cy="841.7" r="2.2" fill="#000"/>
<circle cx="274.8" cy="853.5" r="2.2" fill="#000"/>
<line x1="316.8" y1="720" x2="316.8" y2="725.7" stroke="#000" stroke-width="1.8"/>
<circle cx="314.5" cy="691.2" r="2.2" fill="#000"/>
<circle cx="319.2" cy="691.5" r="2.2" fill="#000"/>
<circle cx="317.5" cy="694" r="2.2" fill="#000"/>
<circle cx="318.3" cy="699.3" r="2.2" fill="#000"/>
<circle cx="316" cy="701.9" r="2.2" fill="#000"/>
<circle cx="316.6" cy="718.3" r="2.2" fill="#000"/>
<circle cx="319.5" cy="718.5" r="2.2" fill="#000"/>
<circle cx="316.2" cy="719.6" r="2.2" fill="#000"/>
<circle cx="316.8" cy="725.7" r="2.2" fill="#000"/>
<line x1="258.5" y1="759.1" x2="290.7" y2="759.1" stroke="#000" stroke-width="2.6"/>
<rect x="258.5" y="721.3" width="32.2" height="62.9" fill="#0B5183" fill-opacity="0.5" stroke="#8a8a8a" stroke-width="1.1"/>
<line x1="300.6" y1="700.6" x2="332.9" y2="700.6" stroke="#000" stroke-width="2.6"/>
<rect x="300.6" y="692.1" width="32.3" height="27.9" fill="#0B5183" fill-opacity="0.5" stroke="#8a8a8a" stroke-width="1.1"/>
<rect x="249.4" y="669.6" width="92.3" height="183.8" fill="none" stroke="#000" stroke-width="3"/>
<line x1="249.4" y1="849.74" x2="252.4" y2="849.74" stroke="#000" stroke-width="1.3"/>
<line x1="249.4" y1="845.5" x2="252.4" y2="845.5" stroke="#000" stroke-width="1.3"/>
<line x1="249.4" y1="841.7" x2="255.9" y2="841.7" stroke="#000" stroke-width="2"/>
<line x1="249.4" y1="816.71" x2="252.4" y2="816.71" stroke="#000" stroke-width="1.3"/>
<line x1="249.4" y1="802.1" x2="252.4" y2="802.1" stroke="#000" stroke-width="1.3"/>
<line x1="249.4" y1="791.73" x2="252.4" y2="791.73" stroke="#000" stroke-width="1.3"/>
<line x1="249.4" y1="783.69" x2="253.8" y2="783.69" stroke="#000" stroke-width="1.5"/>
<line x1="249.4" y1="777.11" x2="252.4" y2="777.11" stroke="#000" stroke-width="1.3"/>
<line x1="249.4" y1="771.56" x2="252.4" y2="771.56" stroke="#000" stroke-width="1.3"/>
<line x1="249.4" y1="766.74" x2="252.4" y2="766.74" stroke="#000" stroke-width="1.3"/>
<line x1="249.4" y1="762.5" x2="252.4" y2="762.5" stroke="#000" stroke-width="1.3"/>
<line x1="249.4" y1="758.7" x2="255.9" y2="758.7" stroke="#000" stroke-width="2"/>
<line x1="249.4" y1="733.71" x2="252.4" y2="733.71" stroke="#000" stroke-width="1.3"/>
<line x1="249.4" y1="719.1" x2="252.4" y2="719.1" stroke="#000" stroke-width="1.3"/>
<line x1="249.4" y1="708.73" x2="252.4" y2="708.73" stroke="#000" stroke-width="1.3"/>
<line x1="249.4" y1="700.69" x2="253.8" y2="700.69" stroke="#000" stroke-width="1.5"/>
<line x1="249.4" y1="694.11" x2="252.4" y2="694.11" stroke="#000" stroke-width="1.3"/>
<line x1="249.4" y1="688.56" x2="252.4" y2="688.56" stroke="#000" stroke-width="1.3"/>
<line x1="249.4" y1="683.74" x2="252.4" y2="683.74" stroke="#000" stroke-width="1.3"/>
<line x1="249.4" y1="679.5" x2="252.4" y2="679.5" stroke="#000" stroke-width="1.3"/>
<line x1="249.4" y1="675.7" x2="255.9" y2="675.7" stroke="#000" stroke-width="2"/>
<line x1="249.4" y1="837.5" x2="252.4" y2="837.5" stroke="#000" stroke-width="1.3"/>
<line x1="244.5" y1="841.7" x2="248.5" y2="841.7" stroke="#000" stroke-width="2"/>
<text transform="translate(232.25,847.2) scale(1.0700,1)" font-size="15.30" fill="#000">1</text>
<line x1="244.5" y1="758.7" x2="248.5" y2="758.7" stroke="#000" stroke-width="2"/>
<text transform="translate(222.92,764.2) scale(1.0700,1)" font-size="15.30" fill="#000">10</text>
<line x1="244.5" y1="675.7" x2="248.5" y2="675.7" stroke="#000" stroke-width="2"/>
<text transform="translate(213.92,681.2) scale(1.0700,1)" font-size="15.30" fill="#000">100</text>
<text transform="translate(276.63,680.1) scale(0.9842,1)" font-size="11.29" letter-spacing="0.45" fill="#000">p = 0.00037</text>
<text transform="translate(216.1,786.57) rotate(-90) scale(0.6788,1)" font-size="19.72" stroke-width="0.4" stroke="#000" letter-spacing="1.18" fill="#000">Hb F (%)</text>
<text transform="translate(257,873.8) scale(1.0456,1)" font-size="16.38" fill="#000">WT</text>
<text transform="translate(301.44,873.8) scale(1.0383,1)" font-size="16.38" fill="#000">MUT</text>
<line x1="430" y1="761" x2="430" y2="800.6" stroke="#000" stroke-width="1.8"/>
<line x1="430" y1="828.6" x2="430" y2="845" stroke="#000" stroke-width="1.8"/>
<circle cx="430.1" cy="705.2" r="2.2" fill="#000"/>
<circle cx="429" cy="734.5" r="2.2" fill="#000"/>
<circle cx="432.5" cy="734.5" r="2.2" fill="#000"/>
<circle cx="430" cy="744" r="2.2" fill="#000"/>
<circle cx="428.5" cy="748.1" r="2.2" fill="#000"/>
<circle cx="431" cy="746.5" r="2.2" fill="#000"/>
<circle cx="431.5" cy="751.7" r="2.2" fill="#000"/>
<circle cx="430" cy="761" r="2.2" fill="#000"/>
<circle cx="432" cy="764" r="2.2" fill="#000"/>
<circle cx="429" cy="767" r="2.2" fill="#000"/>
<circle cx="432.5" cy="768.5" r="2.2" fill="#000"/>
<circle cx="430" cy="771" r="2.2" fill="#000"/>
<circle cx="428" cy="775" r="2.2" fill="#000"/>
<circle cx="431" cy="776" r="2.2" fill="#000"/>
<circle cx="433" cy="778" r="2.2" fill="#000"/>
<circle cx="426" cy="781" r="2.2" fill="#000"/>
<circle cx="429" cy="782" r="2.2" fill="#000"/>
<circle cx="432" cy="781.5" r="2.2" fill="#000"/>
<circle cx="435" cy="782" r="2.2" fill="#000"/>
<circle cx="428" cy="785" r="2.2" fill="#000"/>
<circle cx="431.5" cy="786" r="2.2" fill="#000"/>
<circle cx="434" cy="787" r="2.2" fill="#000"/>
<circle cx="429" cy="790" r="2.2" fill="#000"/>
<circle cx="432" cy="791" r="2.2" fill="#000"/>
<circle cx="430" cy="794" r="2.2" fill="#000"/>
<circle cx="433" cy="795.5" r="2.2" fill="#000"/>
<circle cx="422.4" cy="799.2" r="2.2" fill="#000"/>
<circle cx="424.45" cy="799.2" r="2.2" fill="#000"/>
<circle cx="426.5" cy="799.2" r="2.2" fill="#000"/>
<circle cx="428.55" cy="799.2" r="2.2" fill="#000"/>
<circle cx="430.6" cy="799.2" r="2.2" fill="#000"/>
<circle cx="432.65" cy="799.2" r="2.2" fill="#000"/>
<circle cx="434.7" cy="799.2" r="2.2" fill="#000"/>
<circle cx="436.75" cy="799.2" r="2.2" fill="#000"/>
<circle cx="438.8" cy="799.2" r="2.2" fill="#000"/>
<circle cx="423.2" cy="802.5" r="2.2" fill="#000"/>
<circle cx="425.36" cy="802.5" r="2.2" fill="#000"/>
<circle cx="427.51" cy="802.5" r="2.2" fill="#000"/>
<circle cx="429.67" cy="802.5" r="2.2" fill="#000"/>
<circle cx="431.83" cy="802.5" r="2.2" fill="#000"/>
<circle cx="433.99" cy="802.5" r="2.2" fill="#000"/>
<circle cx="436.14" cy="802.5" r="2.2" fill="#000"/>
<circle cx="438.3" cy="802.5" r="2.2" fill="#000"/>
<circle cx="425.2" cy="805.5" r="2.2" fill="#000"/>
<circle cx="427.35" cy="805.5" r="2.2" fill="#000"/>
<circle cx="429.5" cy="805.5" r="2.2" fill="#000"/>
<circle cx="431.65" cy="805.5" r="2.2" fill="#000"/>
<circle cx="433.8" cy="805.5" r="2.2" fill="#000"/>
<circle cx="428.2" cy="808" r="2.2" fill="#000"/>
<circle cx="429.73" cy="808" r="2.2" fill="#000"/>
<circle cx="431.27" cy="808" r="2.2" fill="#000"/>
<circle cx="432.8" cy="808" r="2.2" fill="#000"/>
<circle cx="425.2" cy="810.5" r="2.2" fill="#000"/>
<circle cx="427.32" cy="810.5" r="2.2" fill="#000"/>
<circle cx="429.44" cy="810.5" r="2.2" fill="#000"/>
<circle cx="431.56" cy="810.5" r="2.2" fill="#000"/>
<circle cx="433.68" cy="810.5" r="2.2" fill="#000"/>
<circle cx="435.8" cy="810.5" r="2.2" fill="#000"/>
<circle cx="420.2" cy="813" r="2.2" fill="#000"/>
<circle cx="422.32" cy="813" r="2.2" fill="#000"/>
<circle cx="424.44" cy="813" r="2.2" fill="#000"/>
<circle cx="426.57" cy="813" r="2.2" fill="#000"/>
<circle cx="428.69" cy="813" r="2.2" fill="#000"/>
<circle cx="430.81" cy="813" r="2.2" fill="#000"/>
<circle cx="432.93" cy="813" r="2.2" fill="#000"/>
<circle cx="435.06" cy="813" r="2.2" fill="#000"/>
<circle cx="437.18" cy="813" r="2.2" fill="#000"/>
<circle cx="439.3" cy="813" r="2.2" fill="#000"/>
<circle cx="417.2" cy="816" r="2.2" fill="#000"/>
<circle cx="419.42" cy="816" r="2.2" fill="#000"/>
<circle cx="421.63" cy="816" r="2.2" fill="#000"/>
<circle cx="423.85" cy="816" r="2.2" fill="#000"/>
<circle cx="426.07" cy="816" r="2.2" fill="#000"/>
<circle cx="428.28" cy="816" r="2.2" fill="#000"/>
<circle cx="430.5" cy="816" r="2.2" fill="#000"/>
<circle cx="432.72" cy="816" r="2.2" fill="#000"/>
<circle cx="434.93" cy="816" r="2.2" fill="#000"/>
<circle cx="437.15" cy="816" r="2.2" fill="#000"/>
<circle cx="439.37" cy="816" r="2.2" fill="#000"/>
<circle cx="441.58" cy="816" r="2.2" fill="#000"/>
<circle cx="443.8" cy="816" r="2.2" fill="#000"/>
<circle cx="416.2" cy="818.5" r="2.2" fill="#000"/>
<circle cx="418.44" cy="818.5" r="2.2" fill="#000"/>
<circle cx="420.68" cy="818.5" r="2.2" fill="#000"/>
<circle cx="422.92" cy="818.5" r="2.2" fill="#000"/>
<circle cx="425.15" cy="818.5" r="2.2" fill="#000"/>
<circle cx="427.39" cy="818.5" r="2.2" fill="#000"/>
<circle cx="429.63" cy="818.5" r="2.2" fill="#000"/>
<circle cx="431.87" cy="818.5" r="2.2" fill="#000"/>
<circle cx="434.11" cy="818.5" r="2.2" fill="#000"/>
<circle cx="436.35" cy="818.5" r="2.2" fill="#000"/>
<circle cx="438.58" cy="818.5" r="2.2" fill="#000"/>
<circle cx="440.82" cy="818.5" r="2.2" fill="#000"/>
<circle cx="443.06" cy="818.5" r="2.2" fill="#000"/>
<circle cx="445.3" cy="818.5" r="2.2" fill="#000"/>
<circle cx="418.7" cy="821" r="2.2" fill="#000"/>
<circle cx="420.8" cy="821" r="2.2" fill="#000"/>
<circle cx="422.9" cy="821" r="2.2" fill="#000"/>
<circle cx="425" cy="821" r="2.2" fill="#000"/>
<circle cx="427.1" cy="821" r="2.2" fill="#000"/>
<circle cx="429.2" cy="821" r="2.2" fill="#000"/>
<circle cx="431.3" cy="821" r="2.2" fill="#000"/>
<circle cx="433.4" cy="821" r="2.2" fill="#000"/>
<circle cx="435.5" cy="821" r="2.2" fill="#000"/>
<circle cx="437.6" cy="821" r="2.2" fill="#000"/>
<circle cx="439.7" cy="821" r="2.2" fill="#000"/>
<circle cx="441.8" cy="821" r="2.2" fill="#000"/>
<circle cx="423.2" cy="823.5" r="2.2" fill="#000"/>
<circle cx="425.47" cy="823.5" r="2.2" fill="#000"/>
<circle cx="427.73" cy="823.5" r="2.2" fill="#000"/>
<circle cx="430" cy="823.5" r="2.2" fill="#000"/>
<circle cx="432.27" cy="823.5" r="2.2" fill="#000"/>
<circle cx="434.53" cy="823.5" r="2.2" fill="#000"/>
<circle cx="436.8" cy="823.5" r="2.2" fill="#000"/>
<circle cx="412.5" cy="826.9" r="2.2" fill="#000"/>
<circle cx="414.74" cy="826.9" r="2.2" fill="#000"/>
<circle cx="416.98" cy="826.9" r="2.2" fill="#000"/>
<circle cx="419.21" cy="826.9" r="2.2" fill="#000"/>
<circle cx="421.45" cy="826.9" r="2.2" fill="#000"/>
<circle cx="423.69" cy="826.9" r="2.2" fill="#000"/>
<circle cx="425.93" cy="826.9" r="2.2" fill="#000"/>
<circle cx="428.16" cy="826.9" r="2.2" fill="#000"/>
<circle cx="430.4" cy="826.9" r="2.2" fill="#000"/>
<circle cx="432.64" cy="826.9" r="2.2" fill="#000"/>
<circle cx="434.88" cy="826.9" r="2.2" fill="#000"/>
<circle cx="437.11" cy="826.9" r="2.2" fill="#000"/>
<circle cx="439.35" cy="826.9" r="2.2" fill="#000"/>
<circle cx="441.59" cy="826.9" r="2.2" fill="#000"/>
<circle cx="443.82" cy="826.9" r="2.2" fill="#000"/>
<circle cx="446.06" cy="826.9" r="2.2" fill="#000"/>
<circle cx="448.3" cy="826.9" r="2.2" fill="#000"/>
<circle cx="417.2" cy="830" r="2.2" fill="#000"/>
<circle cx="419.32" cy="830" r="2.2" fill="#000"/>
<circle cx="421.45" cy="830" r="2.2" fill="#000"/>
<circle cx="423.57" cy="830" r="2.2" fill="#000"/>
<circle cx="425.69" cy="830" r="2.2" fill="#000"/>
<circle cx="427.82" cy="830" r="2.2" fill="#000"/>
<circle cx="429.94" cy="830" r="2.2" fill="#000"/>
<circle cx="432.06" cy="830" r="2.2" fill="#000"/>
<circle cx="434.18" cy="830" r="2.2" fill="#000"/>
<circle cx="436.31" cy="830" r="2.2" fill="#000"/>
<circle cx="438.43" cy="830" r="2.2" fill="#000"/>
<circle cx="440.55" cy="830" r="2.2" fill="#000"/>
<circle cx="442.68" cy="830" r="2.2" fill="#000"/>
<circle cx="444.8" cy="830" r="2.2" fill="#000"/>
<circle cx="419.2" cy="833" r="2.2" fill="#000"/>
<circle cx="421.35" cy="833" r="2.2" fill="#000"/>
<circle cx="423.49" cy="833" r="2.2" fill="#000"/>
<circle cx="425.64" cy="833" r="2.2" fill="#000"/>
<circle cx="427.78" cy="833" r="2.2" fill="#000"/>
<circle cx="429.93" cy="833" r="2.2" fill="#000"/>
<circle cx="432.07" cy="833" r="2.2" fill="#000"/>
<circle cx="434.22" cy="833" r="2.2" fill="#000"/>
<circle cx="436.36" cy="833" r="2.2" fill="#000"/>
<circle cx="438.51" cy="833" r="2.2" fill="#000"/>
<circle cx="440.65" cy="833" r="2.2" fill="#000"/>
<circle cx="442.8" cy="833" r="2.2" fill="#000"/>
<circle cx="421.2" cy="836" r="2.2" fill="#000"/>
<circle cx="423.27" cy="836" r="2.2" fill="#000"/>
<circle cx="425.33" cy="836" r="2.2" fill="#000"/>
<circle cx="427.4" cy="836" r="2.2" fill="#000"/>
<circle cx="429.47" cy="836" r="2.2" fill="#000"/>
<circle cx="431.53" cy="836" r="2.2" fill="#000"/>
<circle cx="433.6" cy="836" r="2.2" fill="#000"/>
<circle cx="435.67" cy="836" r="2.2" fill="#000"/>
<circle cx="437.73" cy="836" r="2.2" fill="#000"/>
<circle cx="439.8" cy="836" r="2.2" fill="#000"/>
<circle cx="423.2" cy="839" r="2.2" fill="#000"/>
<circle cx="425.29" cy="839" r="2.2" fill="#000"/>
<circle cx="427.37" cy="839" r="2.2" fill="#000"/>
<circle cx="429.46" cy="839" r="2.2" fill="#000"/>
<circle cx="431.54" cy="839" r="2.2" fill="#000"/>
<circle cx="433.63" cy="839" r="2.2" fill="#000"/>
<circle cx="435.71" cy="839" r="2.2" fill="#000"/>
<circle cx="437.8" cy="839" r="2.2" fill="#000"/>
<circle cx="421.7" cy="841.5" r="2.2" fill="#000"/>
<circle cx="423.84" cy="841.5" r="2.2" fill="#000"/>
<circle cx="425.98" cy="841.5" r="2.2" fill="#000"/>
<circle cx="428.11" cy="841.5" r="2.2" fill="#000"/>
<circle cx="430.25" cy="841.5" r="2.2" fill="#000"/>
<circle cx="432.39" cy="841.5" r="2.2" fill="#000"/>
<circle cx="434.52" cy="841.5" r="2.2" fill="#000"/>
<circle cx="436.66" cy="841.5" r="2.2" fill="#000"/>
<circle cx="438.8" cy="841.5" r="2.2" fill="#000"/>
<circle cx="428.2" cy="844" r="2.2" fill="#000"/>
<circle cx="430.07" cy="844" r="2.2" fill="#000"/>
<circle cx="431.93" cy="844" r="2.2" fill="#000"/>
<circle cx="433.8" cy="844" r="2.2" fill="#000"/>
<circle cx="430" cy="846" r="2.2" fill="#000"/>
<line x1="476.4" y1="678.7" x2="476.4" y2="725.7" stroke="#000" stroke-width="1.8"/>
<line x1="476.4" y1="781.7" x2="476.4" y2="839.9" stroke="#000" stroke-width="1.8"/>
<circle cx="476.4" cy="678.7" r="2.2" fill="#000"/>
<circle cx="476.4" cy="689.8" r="2.2" fill="#000"/>
<circle cx="476.4" cy="723.4" r="2.2" fill="#000"/>
<circle cx="476.4" cy="733.1" r="2.2" fill="#000"/>
<circle cx="476.4" cy="741.5" r="2.2" fill="#000"/>
<circle cx="476.4" cy="766.5" r="2.2" fill="#000"/>
<circle cx="476.4" cy="777.8" r="2.2" fill="#000"/>
<circle cx="476.4" cy="782.2" r="2.2" fill="#000"/>
<circle cx="476.4" cy="786.5" r="2.2" fill="#000"/>
<circle cx="476.4" cy="839.9" r="2.2" fill="#000"/>
<rect x="412.9" y="800.6" width="35" height="28" fill="#0B5183" fill-opacity="0.5" stroke="#8a8a8a" stroke-width="1.1"/>
<line x1="458.5" y1="753.9" x2="493.8" y2="753.9" stroke="#000" stroke-width="2.6"/>
<rect x="458.5" y="725.7" width="35.3" height="56" fill="#0B5183" fill-opacity="0.5" stroke="#8a8a8a" stroke-width="1.1"/>
<rect x="402.6" y="669.6" width="101" height="183.9" fill="none" stroke="#000" stroke-width="3"/>
<line x1="397.1" y1="843.7" x2="401.2" y2="843.7" stroke="#000" stroke-width="2"/>
<text transform="translate(386.7,849.1) scale(1.0000,1)" font-size="15.00" fill="#000">0</text>
<line x1="397.1" y1="791.3" x2="401.2" y2="791.3" stroke="#000" stroke-width="2"/>
<text transform="translate(386.85,796.7) scale(1.0000,1)" font-size="15.00" fill="#000">2</text>
<line x1="397.1" y1="738.9" x2="401.2" y2="738.9" stroke="#000" stroke-width="2"/>
<text transform="translate(386.55,744.3) scale(1.0000,1)" font-size="15.00" fill="#000">4</text>
<line x1="397.1" y1="686.5" x2="401.2" y2="686.5" stroke="#000" stroke-width="2"/>
<text transform="translate(386.85,691.9) scale(1.0000,1)" font-size="15.00" fill="#000">6</text>
<text transform="translate(405.61,681.3) scale(1.0390,1)" font-size="11.00" letter-spacing="0.44" fill="#000">p = 0.00019</text>
<text transform="translate(377.8,789.1) rotate(-90) scale(0.6421,1)" font-size="19.58" stroke-width="0.4" stroke="#000" letter-spacing="1.18" fill="#000">Age (years)</text>
<text transform="translate(408.8,874) scale(1.0000,1)" font-size="16.67" fill="#000">WT</text>
<text transform="translate(463.63,874) scale(1.0261,1)" font-size="16.67" fill="#000">MUT</text>
<text transform="translate(228.27,906.5) scale(0.6538,1)" font-size="19.29" stroke-width="0.4" stroke="#000" letter-spacing="1.16" fill="#000">SH2B3 genotype</text>
</svg>
</body></html>
